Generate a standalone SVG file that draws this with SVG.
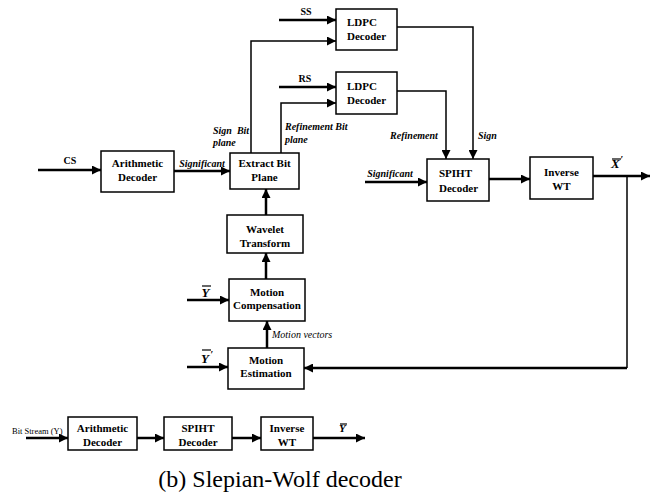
<svg xmlns="http://www.w3.org/2000/svg" width="650" height="497" viewBox="0 0 650 497" font-family="Liberation Serif, serif">
<style>
.box{fill:#fff;stroke:#000;stroke-width:1.5}
.t{font-family:Liberation Serif,serif;font-size:11px;font-weight:bold;fill:#000}
.s10{font-size:10px}
.c{text-anchor:middle}
.lab{font-family:Liberation Serif,serif;font-size:10px;font-weight:bold;font-style:italic;fill:#000}
.lab2{font-family:Liberation Serif,serif;font-size:10px;font-style:italic;fill:#000}
.sym{font-family:Liberation Serif,serif;font-size:13px;font-weight:bold;font-style:italic;fill:#000}
.pr{font-family:Liberation Serif,serif;font-size:10px;font-weight:bold;fill:#000}
.small{font-family:Liberation Serif,serif;font-size:8.5px;fill:#000}
.w{fill:none;stroke:#000;stroke-width:2.5}
.n{fill:none;stroke:#000;stroke-width:1.5}
.ol{stroke:#000;stroke-width:1.2}
</style>
<defs>
<marker id="ah" markerUnits="userSpaceOnUse" markerWidth="10" markerHeight="9" refX="9" refY="4.5" orient="auto">
<path d="M0,0 L9,4.5 L0,9 z" fill="#000"/>
</marker>
</defs>
<g id="connectors">
<path class="w" d="M38,170 H101" marker-end="url(#ah)"/>
<path class="w" d="M174,171 H230" marker-end="url(#ah)"/>
<path class="n" d="M251,153 V41 H336" marker-end="url(#ah)"/>
<path class="w" d="M279,20 H336" marker-end="url(#ah)"/>
<path class="w" d="M279,87 H336" marker-end="url(#ah)"/>
<path class="n" d="M281,153 V103 H336" marker-end="url(#ah)"/>
<path class="n" d="M397,27 H473 V159" marker-end="url(#ah)"/>
<path class="n" d="M397,91 H446 V159" marker-end="url(#ah)"/>
<path class="w" d="M365,182 H427" marker-end="url(#ah)"/>
<path class="w" d="M489,179 H530" marker-end="url(#ah)"/>
<path class="w" d="M593,176 H650" marker-end="url(#ah)"/>
<path class="n" d="M627,176 V368"/>
<path class="w" d="M627,368 H304" marker-end="url(#ah)"/>
<path class="w" d="M266,215 V189" marker-end="url(#ah)"/>
<path class="w" d="M266,279 V253" marker-end="url(#ah)"/>
<path class="w" d="M267,348 V321" marker-end="url(#ah)"/>
<path class="w" d="M187,300 H229" marker-end="url(#ah)"/>
<path class="w" d="M187,367 H228" marker-end="url(#ah)"/>
<path class="w" d="M26,438 H68" marker-end="url(#ah)"/>
<path class="w" d="M137,438 H164" marker-end="url(#ah)"/>
<path class="w" d="M232,438 H261" marker-end="url(#ah)"/>
<path class="w" d="M313,438 H365" marker-end="url(#ah)"/>
</g>
<g id="labels">
<text class="t s10 c" x="70" y="164">CS</text>
<text class="t s10 c" x="306" y="15">SS</text>
<text class="t s10 c" x="305" y="82">RS</text>
<text class="lab c" x="202" y="167">Significant</text>
<text class="lab" x="213" y="134" xml:space="preserve">Sign  Bit</text>
<text class="lab" x="213" y="146">plane</text>
<text class="lab" x="285" y="130">Refinement Bit</text>
<text class="lab" x="285" y="143">plane</text>
<text class="lab c" x="414" y="139">Refinement</text>
<text class="lab" x="478" y="139">Sign</text>
<text class="lab c" x="390" y="177">Significant</text>
<text class="lab2" x="272" y="338">Motion vectors</text>
<text class="sym" x="201.5" y="297">Y</text>
<line class="ol" x1="202" y1="286" x2="211" y2="286"/>
<text class="sym" x="201" y="363">Y</text>
<text class="pr" x="210.5" y="358">&#x2032;</text>
<line class="ol" x1="202" y1="350" x2="211" y2="350"/>
<text class="sym" x="611" y="168">X</text>
<text class="pr" x="620.5" y="163">&#x2032;</text>
<line class="ol" x1="612" y1="159" x2="621" y2="159"/>
<text class="small" x="12" y="434">Bit Stream (Y)</text>
<text class="sym" x="339" y="432" style="font-size:11px">Y</text>
<line class="ol" x1="340" y1="424" x2="347" y2="424"/>
<text x="280" y="487" text-anchor="middle" font-family="Liberation Serif, serif" font-size="24">(b) Slepian-Wolf decoder</text>
</g>
<g id="arith1"><rect class="box" x="101" y="151" width="73" height="41"/><text class="t c" x="137.5" y="167">Arithmetic</text><text class="t c" x="137.5" y="181">Decoder</text></g>
<g id="extract"><rect class="box" x="230" y="153" width="69" height="36"/><text class="t c" x="264.5" y="167">Extract Bit</text><text class="t c" x="264.5" y="181">Plane</text></g>
<g id="ldpc1"><rect class="box" x="336" y="9" width="61" height="41"/><text class="t" x="347" y="26">LDPC</text><text class="t" x="347" y="40">Decoder</text></g>
<g id="ldpc2"><rect class="box" x="336" y="72" width="61" height="42"/><text class="t" x="347" y="90">LDPC</text><text class="t" x="347" y="104">Decoder</text></g>
<g id="spiht1"><rect class="box" x="427" y="159" width="62" height="42"/><text class="t" x="439" y="177">SPIHT</text><text class="t" x="439" y="192">Decoder</text></g>
<g id="iwt1"><rect class="box" x="530" y="157" width="63" height="42"/><text class="t c" x="561.5" y="176">Inverse</text><text class="t c" x="561.5" y="190">WT</text></g>
<g id="wavelet"><rect class="box" x="227" y="215" width="76" height="38"/><text class="t c" x="265" y="233">Wavelet</text><text class="t c" x="265" y="247">Transform</text></g>
<g id="mc"><rect class="box" x="229" y="279" width="76" height="42"/><text class="t c" x="267" y="296">Motion</text><text class="t c" x="267" y="309">Compensation</text></g>
<g id="me"><rect class="box" x="228" y="348" width="76" height="41"/><text class="t c" x="266" y="364">Motion</text><text class="t c" x="266" y="377">Estimation</text></g>
<g id="arith2"><rect class="box" x="68" y="417" width="69" height="33"/><text class="t c" x="102.5" y="432">Arithmetic</text><text class="t c" x="102.5" y="446">Decoder</text></g>
<g id="spiht2"><rect class="box" x="164" y="417" width="68" height="33"/><text class="t c" x="198" y="432">SPIHT</text><text class="t c" x="198" y="446">Decoder</text></g>
<g id="iwt2"><rect class="box" x="261" y="417" width="52" height="33"/><text class="t c" x="287" y="432">Inverse</text><text class="t c" x="287" y="446">WT</text></g>
</svg>
